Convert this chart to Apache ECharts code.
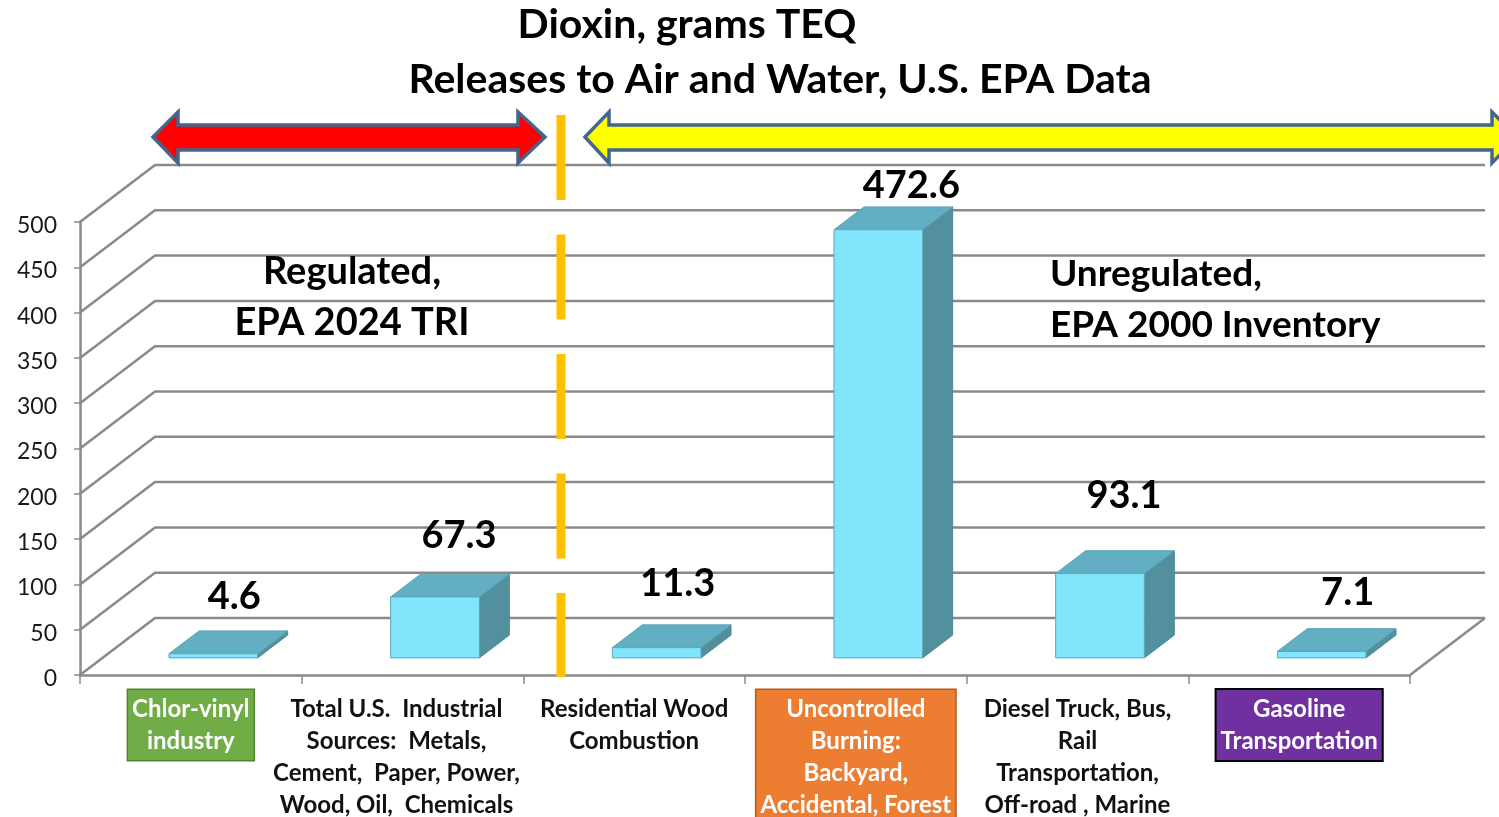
<!DOCTYPE html>
<html><head><meta charset="utf-8">
<script src="https://cdn.jsdelivr.net/npm/echarts/dist/echarts.min.js"></script>
<style>html,body{margin:0;padding:0;background:#fff}#c{width:1499px;height:817px}</style>
</head><body><div id="c"></div>
<script>
// ---- data ----
const categories = [
  'Chlor-vinyl\nindustry',
  'Total U.S.  Industrial\nSources:  Metals,\nCement,  Paper, Power,\nWood, Oil,  Chemicals',
  'Residential Wood\nCombustion',
  'Uncontrolled\nBurning:\nBackyard,\nAccidental, Forest',
  'Diesel Truck, Bus,\nRail\nTransportation,\nOff-road , Marine',
  'Gasoline\nTransportation'
];
const values = [4.6, 67.3, 11.3, 472.6, 93.1, 7.1];
const yTicks = [0, 50, 100, 150, 200, 250, 300, 350, 400, 450, 500];
const titleLines = ['Dioxin, grams TEQ', 'Releases to Air and Water, U.S. EPA Data'];
const regulatedText = 'Regulated,\nEPA 2024 TRI';
const unregulatedText = 'Unregulated,\nEPA 2000 Inventory';

// ---- layout / style ----
const FONT = 'Lato';
const DX = 75, DY = -57;          // depth of the 3D box (front -> back wall)
const FRONT_T = 0.3, DEPTH_T = 0.4, BAR_FRAC = 0.4;
const GRID_COLOR = '#8a8a8a';
const labelNudge = [[-2, 2], [1, -2], [-2, -5], [10, 15], [1, -19], [3, 0]];
const boxStyles = {
  0: {color: '#fff', backgroundColor: '#70AD47', borderColor: '#548235', borderWidth: 1.5, padding: [3, 4, 3, 4]},
  1: {padding: [3, 36, 3, 4]},
  3: {color: '#fff', backgroundColor: '#ED7D31', borderColor: '#B85A1C', borderWidth: 1.5, padding: [3, 4, 30, 4]},
  5: {color: '#fff', backgroundColor: '#7030A0', borderColor: '#000', borderWidth: 2, padding: [3, 4, 3, 4]}
};

const chart = echarts.init(document.getElementById('c'), null, {renderer: 'canvas'});

const option = {
  animation: false,
  backgroundColor: '#fff',
  grid: {left: 80, right: 89, top: 222, bottom: 142, containLabel: false, outerBoundsMode: 'none'},
  xAxis: {
    type: 'category',
    data: categories.map((c, i) => boxStyles[i] ? {value: c, textStyle: boxStyles[i]} : c),
    boundaryGap: true,
    axisLine: {lineStyle: {color: GRID_COLOR, width: 2.5}},
    axisTick: {show: true, length: 9, interval: 0, lineStyle: {color: GRID_COLOR, width: 1.5}},
    axisLabel: {interval: 0, margin: 15, fontFamily: FONT, fontWeight: 'bold', fontSize: 24,
      lineHeight: 32, color: '#111', padding: [3, 4, 3, 4]},
    splitLine: {show: false}
  },
  yAxis: {
    type: 'value', min: 0, max: 500, interval: 50,
    axisLine: {show: true, lineStyle: {color: GRID_COLOR, width: 2.5}},
    axisTick: {show: true, length: 6, lineStyle: {color: GRID_COLOR, width: 1.5}},
    axisLabel: {margin: 23, formatter: v => '{a|' + v + '}',
      rich: {a: {fontFamily: FONT, fontSize: 23, color: '#1a1a1a', padding: [7, 0, 0, 0]}}},
    splitLine: {show: false}
  },
  series: [
    {
      type: 'custom', clip: false, silent: true, z: 1,
      data: yTicks.map(v => [0, v]),
      encode: {x: 0, y: 1},
      renderItem: (params, api) => {
        const cs = params.coordSys;
        const v = api.value(1);
        const y = api.coord([0, v])[1];
        const x0 = cs.x, x1 = cs.x + cs.width;
        const style = {stroke: GRID_COLOR, lineWidth: 2.5, fill: null};
        const children = [
          {type: 'polyline', shape: {points: [[x0, y], [x0 + DX, y + DY], [x1 + DX, y + DY]]}, style}
        ];
        if (v === 0) children.push({type: 'line', shape: {x1: x1, y1: y, x2: x1 + DX, y2: y + DY}, style});
        return {type: 'group', children};
      }
    },
    {
      type: 'custom', clip: false, silent: true, z: 3,
      data: values.map((v, i) => [i, v]),
      encode: {x: 0, y: 1},
      renderItem: (params, api) => {
        const i = api.value(0), v = api.value(1);
        const base = api.coord([i, 0]), top = api.coord([i, v]);
        const band = api.size([1, 0])[0];
        const w = band * BAR_FRAC;
        const ox = DX * FRONT_T, oy = DY * FRONT_T, dx = DX * DEPTH_T, dy = DY * DEPTH_T;
        const xl = base[0] - w / 2 + ox, xr = xl + w, yb = base[1] + oy, yt = top[1] + oy;
        const edge = '#5aa9bb';
        const nd = labelNudge[params.dataIndex] || [0, 0];
        return {
          type: 'group',
          children: [
            {type: 'polygon', shape: {points: [[xr, yt], [xr + dx, yt + dy], [xr + dx, yb + dy], [xr, yb]]},
              style: {fill: '#52909E', stroke: '#4d8897', lineWidth: 1}},
            {type: 'polygon', shape: {points: [[xl, yt], [xr, yt], [xr + dx, yt + dy], [xl + dx, yt + dy]]},
              style: {fill: '#62AEC2', stroke: '#5aa2b5', lineWidth: 1}},
            {type: 'rect', shape: {x: xl, y: yt, width: w, height: yb - yt},
              style: {fill: '#82E5FC', stroke: edge, lineWidth: 1}},
            {type: 'text', x: (xl + xr) / 2 + dx / 2 + 8 + nd[0], y: yt + dy - 36 + nd[1],
              style: {text: String(values[params.dataIndex]), fontFamily: FONT, fontWeight: 'bold', fontSize: 38,
                fill: '#000', align: 'center', verticalAlign: 'middle'}}
          ]
        };
      }
    }
  ],
  graphic: [
    {type: 'text', x: 687, y: 25, z: 10,
      style: {text: titleLines[0], fontFamily: FONT, fontWeight: 'bold', fontSize: 41, fill: '#000', align: 'center', verticalAlign: 'middle'}},
    {type: 'text', x: 780, y: 80, z: 10,
      style: {text: titleLines[1], fontFamily: FONT, fontWeight: 'bold', fontSize: 41, fill: '#000', align: 'center', verticalAlign: 'middle'}},
    {type: 'polygon', z: 10,
      shape: {points: [[153, 137], [178, 112], [178, 125], [518, 125], [518, 112], [545, 137], [518, 163], [518, 150], [178, 150], [178, 163]]},
      style: {fill: '#FF0000', stroke: '#41668F', lineWidth: 3.5, lineJoin: 'miter'}},
    {type: 'polygon', z: 10,
      shape: {points: [[585, 137], [609, 112], [609, 125], [1492, 125], [1492, 112], [1517, 137], [1492, 163], [1492, 150], [609, 150], [609, 163]]},
      style: {fill: '#FFFF00', stroke: '#41668F', lineWidth: 3.5, lineJoin: 'miter'}},
    {type: 'line', z: 10, shape: {x1: 561, y1: 115, x2: 561, y2: 677},
      style: {stroke: '#FFC000', lineWidth: 9, lineDash: [85, 34.5], lineCap: 'butt'}},
    {type: 'text', x: 352, y: 297, z: 10,
      style: {text: regulatedText, fontFamily: FONT, fontWeight: 'bold', fontSize: 38, lineHeight: 51, fill: '#000', align: 'center', verticalAlign: 'middle'}},
    {type: 'text', x: 1050, y: 300, z: 10,
      style: {text: unregulatedText, fontFamily: FONT, fontWeight: 'bold', fontSize: 37, lineHeight: 51, fill: '#000', align: 'left', verticalAlign: 'middle'}}
  ]
};
chart.setOption(option);
</script>
</body></html>
